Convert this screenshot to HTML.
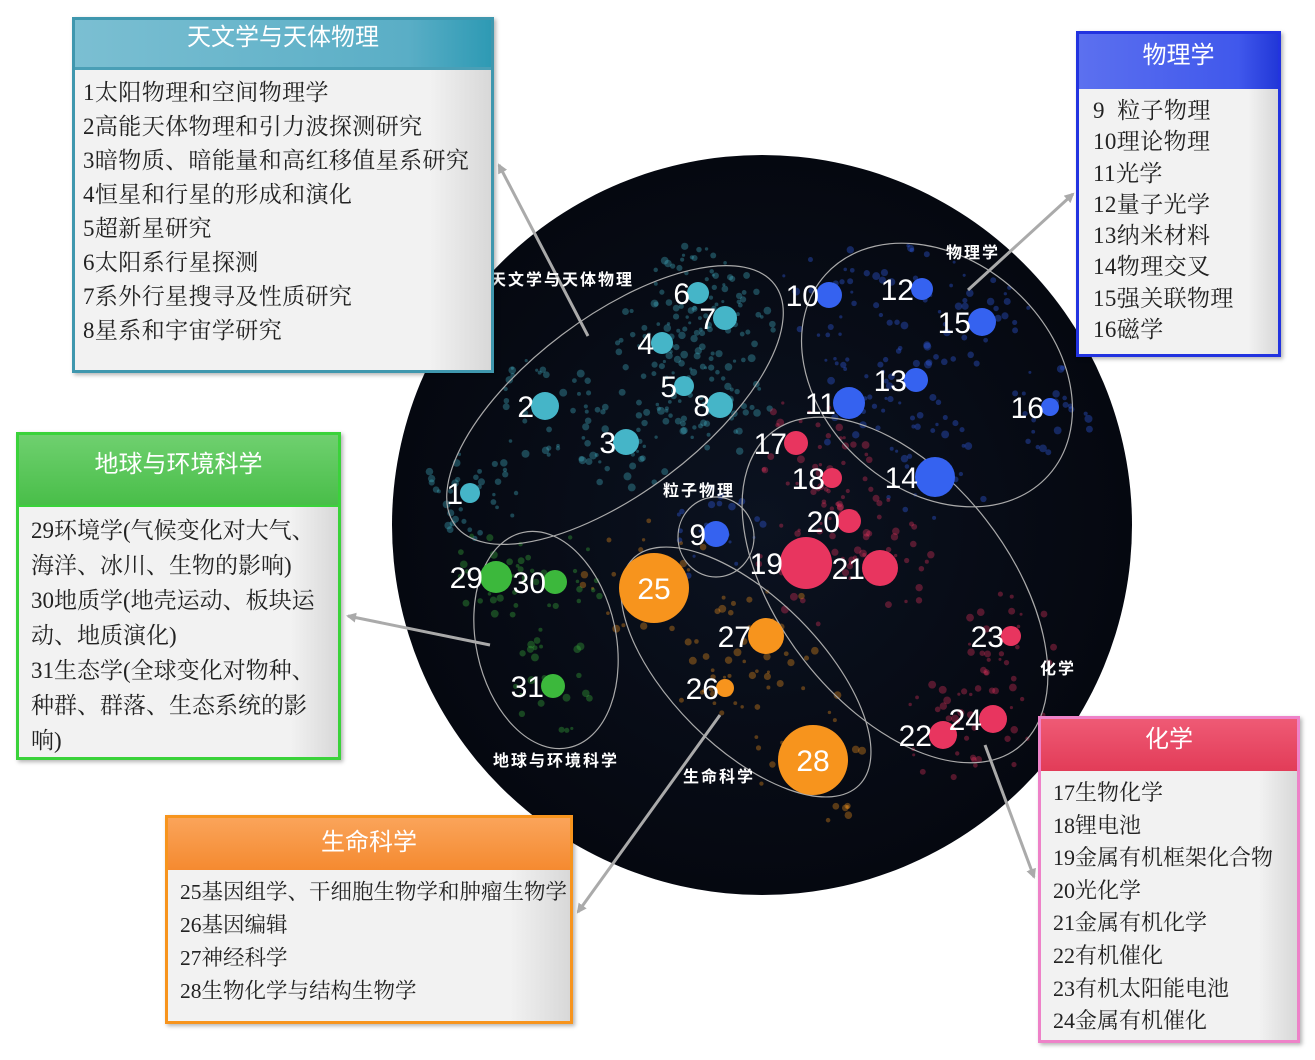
<!DOCTYPE html>
<html><head><meta charset="utf-8"><style>
body{margin:0;width:1315px;height:1060px;background:#fff;overflow:hidden;position:relative;font-family:"Liberation Serif","Noto Serif CJK SC",serif}
.box{position:absolute;box-sizing:border-box;background:linear-gradient(90deg,#f2f2f2 85%,#d8d8d8);box-shadow:2px 2px 4px rgba(0,0,0,.3)}
.hd{color:#fff;text-align:center;font-family:"Liberation Sans","Noto Sans CJK SC",sans-serif;font-size:24px;box-sizing:border-box}
.bd{padding:6px 8px;font-size:23px;letter-spacing:0.4px;color:#222;white-space:nowrap}
</style></head><body>
<svg width="1315" height="1060" style="position:absolute;left:0;top:0">
<defs><marker id="ar" markerWidth="10" markerHeight="10" refX="8" refY="5" orient="auto" markerUnits="userSpaceOnUse"><path d="M0,0 L10,5 L0,10 z" fill="#aaa"/></marker>
<radialGradient id="g"><stop offset="0" stop-color="#0b1220"/><stop offset="1" stop-color="#050810"/></radialGradient></defs>
<circle cx="762" cy="525" r="370" fill="url(#g)"/>
<g id="dots"></g>
<g fill="none" stroke="#aaa" stroke-width="1.2">
<ellipse cx="615" cy="405" rx="200" ry="88" transform="rotate(-37 615 405)"/>
<ellipse cx="937" cy="375" rx="150" ry="115" transform="rotate(42 937 375)"/>
<ellipse cx="895" cy="590" rx="200" ry="115" transform="rotate(52 895 590)"/>
<ellipse cx="746" cy="672" rx="160" ry="75" transform="rotate(45 746 672)"/>
<ellipse cx="546" cy="640" rx="70" ry="110" transform="rotate(-12 546 640)"/>
<ellipse cx="716" cy="537" rx="38" ry="40"/>
</g>
<g id="nodes"></g>
<g stroke="#aaa" stroke-width="3" marker-end="url(#ar)">
<line x1="588" y1="336" x2="499" y2="165"/>
<line x1="968" y1="290" x2="1073" y2="194"/>
<line x1="490" y1="645" x2="348" y2="616"/>
<line x1="720" y1="715" x2="578" y2="912"/>
<line x1="985" y1="745" x2="1034" y2="877"/>
</g>
<g fill="#fff" font-family="Liberation Sans,Noto Sans CJK SC,sans-serif" font-weight="bold" font-size="16" letter-spacing="2">
<text x="490" y="285">天文学与天体物理</text><text x="946" y="258">物理学</text>
<text x="663" y="496">粒子物理</text><text x="1040" y="674">化学</text>
<text x="493" y="766">地球与环境科学</text><text x="683" y="782">生命科学</text></g>
</svg>
<div class="box" style="left:72px;top:17px;width:422px;height:356px;border:3px solid #3f97ae">
<div class="hd" style="height:50px;line-height:36px;background:linear-gradient(90deg,#7bbfd2,#5aaec6 80%,#2e9ab4);border-bottom:3px solid #4a9fb6">天文学与天体物理</div>
<div class="bd" style="line-height:34px">1太阳物理和空间物理学<br>2高能天体物理和引力波探测研究<br>3暗物质、暗能量和高红移值星系研究<br>4恒星和行星的形成和演化<br>5超新星研究<br>6太阳系行星探测<br>7系外行星搜寻及性质研究<br>8星系和宇宙学研究</div></div>
<div class="box" style="left:1076px;top:31px;width:205px;height:326px;border:3px solid #2233e0">
<div class="hd" style="height:55px;line-height:44px;background:linear-gradient(90deg,#5c70ef,#4058ec 80%,#2238d8)">物理学</div>
<div class="bd" style="line-height:31.3px;padding-left:14px">9&nbsp; 粒子物理<br>10理论物理<br>11光学<br>12量子光学<br>13纳米材料<br>14物理交叉<br>15强关联物理<br>16磁学</div></div>
<div class="box" style="left:16px;top:432px;width:325px;height:328px;border:3px solid #3ad23a">
<div class="hd" style="height:72px;line-height:60px;background:linear-gradient(180deg,#6fd06f,#49be49);border-bottom:2px solid #3ad23a">地球与环境科学</div>
<div class="bd" style="line-height:35px;padding:6px 12px;letter-spacing:0">29环境学(气候变化对大气、<br>海洋、冰川、生物的影响)<br>30地质学(地壳运动、板块运<br>动、地质演化)<br>31生态学(全球变化对物种、<br>种群、群落、生态系统的影<br>响)</div></div>
<div class="box" style="left:165px;top:815px;width:408px;height:209px;border:3px solid #f7941d">
<div class="hd" style="height:52px;line-height:50px;background:linear-gradient(180deg,#faa45a,#f58a30)">生命科学</div>
<div class="bd" style="line-height:33px;padding-left:12px;letter-spacing:0;font-size:21.5px">25基因组学、干细胞生物学和肿瘤生物学<br>26基因编辑<br>27神经科学<br>28生物化学与结构生物学</div></div>
<div class="box" style="left:1038px;top:716px;width:262px;height:327px;border:3px solid #ee82c8">
<div class="hd" style="height:52px;line-height:42px;background:linear-gradient(180deg,#ef5a75,#e23c58)">化学</div>
<div class="bd" style="line-height:32.6px;padding-left:12px;font-size:22px;letter-spacing:0">17生物化学<br>18锂电池<br>19金属有机框架化合物<br>20光化学<br>21金属有机化学<br>22有机催化<br>23有机太阳能电池<br>24金属有机催化</div></div>
<script>
var N=[[1,470,493,10,'c'],[2,545,406,14,'c'],[3,626,442,13,'c'],[4,662,343,11,'c'],[5,684,386,10,'c'],[6,698,293,11,'c'],[7,725,318,12,'c'],[8,720,405,13,'c'],
[9,716,534,13,'b'],[10,829,295,13,'b'],[11,849,403,16,'b'],[12,922,289,11,'b'],[13,916,380,12,'b'],[14,935,477,20,'b'],[15,982,322,14,'b'],[16,1050,407,9,'b'],
[17,796,443,12,'r'],[18,832,478,10,'r'],[19,806,563,26,'r'],[20,849,521,12,'r'],[21,880,568,18,'r'],[22,943,735,14,'r'],[23,1011,636,10,'r'],[24,993,719,14,'r'],
[25,654,588,35,'o'],[26,725,688,9,'o'],[27,766,636,18,'o'],[28,813,760,35,'o'],[29,496,577,16,'g'],[30,555,582,12,'g'],[31,553,686,12,'g']];
var C={c:'#45b5c8',b:'#3562f0',r:'#e8355f',o:'#f7941d',g:'#3cb83c'};
var ns='http://www.w3.org/2000/svg',D=document.getElementById('dots'),G=document.getElementById('nodes');
var s=7;function R(){s=(s*16807)%2147483647;return s/2147483647;}
function el(p,t,a){var e=document.createElementNS(ns,t);for(var k in a)e.setAttribute(k,a[k]);p.appendChild(e);return e;}
N.forEach(function(n){var k=n[4]=='c'?35:22;for(var i=0;i<k;i++){var a=R()*6.28,d=Math.sqrt(R())*(n[3]+38);
el(D,'circle',{cx:n[1]+Math.cos(a)*d,cy:n[2]+Math.sin(a)*d,r:1.5+R()*2.5,fill:C[n[4]],opacity:0.35});}});
N.forEach(function(n){el(G,'circle',{cx:n[1],cy:n[2],r:n[3],fill:C[n[4]]});
var big=n[3]>30,t=el(G,'text',{x:big?n[1]:n[1]-n[3]+3,y:n[2]+11,fill:'#fff','font-size':30,'font-family':'Liberation Sans,sans-serif','text-anchor':big?'middle':'end'});t.textContent=n[0];});
</script>
</body></html>
